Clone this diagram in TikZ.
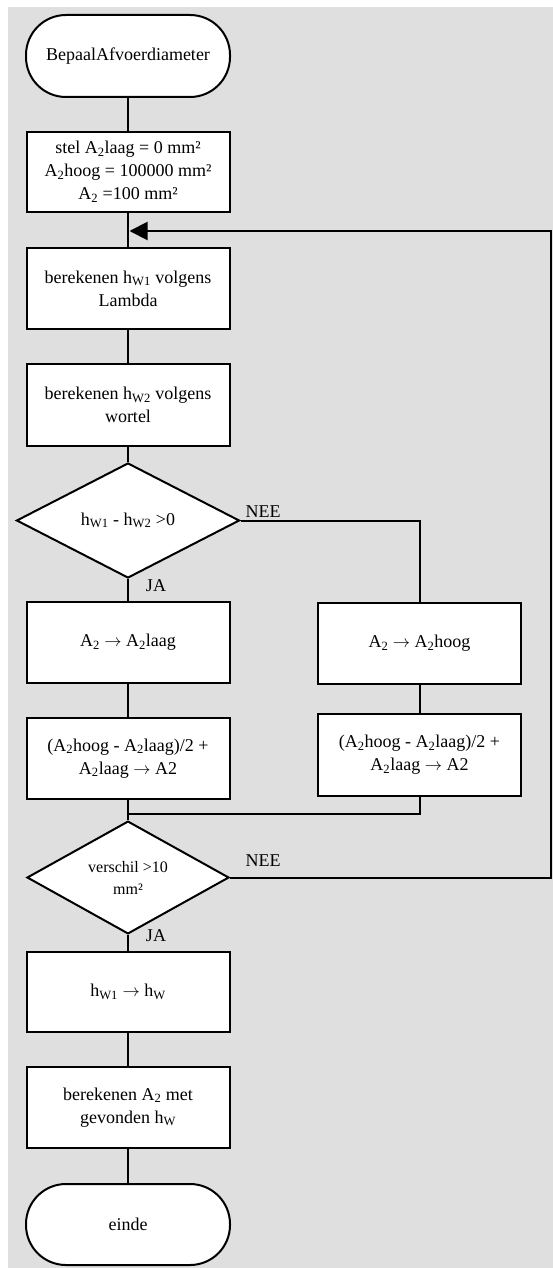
\documentclass[tikz,border=0pt]{standalone}
\usepackage{fontspec}
\setmainfont{Liberation Serif}
\usetikzlibrary{shapes.geometric,arrows.meta}
\definecolor{panel}{RGB}{223,223,223}
\newcommand\Asub{A\textsubscript{2}}
\newcommand\hsub[1]{h\textsubscript{#1}}
\newcommand\goesto{\ensuremath{\rightarrow}}
\begin{document}
\begin{tikzpicture}[x=1pt,y=-1pt,line width=2pt,
  txt/.style={font=\fontsize{18}{23}\selectfont},
  proc/.style={txt,draw,fill=white,rectangle,minimum width=203pt,inner sep=2pt,align=center},
  term/.style={txt,draw,fill=white,rectangle,rounded corners=40pt,minimum width=204pt,minimum height=82pt},
  dec/.style={draw,fill=white,diamond,inner sep=0pt,align=center},
  lbl/.style={txt,inner sep=0pt},
  loopback/.style={-{Triangle[length=18pt,width=18pt]}}
]
\useasboundingbox (0,0) rectangle (553,1268);
\fill[panel] (8,7) rectangle (553,1268);

% main column
\node[term] (start) at (128,56) {BepaalAfvoerdiameter};
\node[proc,minimum height=80pt] (init) at (128,172)
  {stel \Asub laag = 0 mm²\\\Asub hoog = 100000 mm²\\\Asub{} =100 mm²};
\node[proc,minimum height=81pt] (lambda) at (128,288.5) {berekenen \hsub{W1} volgens\\Lambda};
\node[proc,minimum height=82pt] (wortel) at (128,405) {berekenen \hsub{W2} volgens\\wortel};
\node[dec,txt,minimum width=223pt,minimum height=115pt] (test) at (128,520.5) {\hsub{W1} - \hsub{W2} >0};
\node[proc,minimum height=81pt] (laag) at (128,642.5) {\Asub{} \goesto{} \Asub laag};
\node[proc,minimum height=81pt] (midL) at (128,758.5) {(\Asub hoog - \Asub laag)/2 +\\\Asub laag \goesto{} A2};
\node[dec,font=\fontsize{16}{22}\selectfont,minimum width=202pt,minimum height=99pt] (conv) at (128,877.5) {verschil >10\\mm²};
\node[proc,minimum height=80pt] (copy) at (128,992) {\hsub{W1} \goesto{} \hsub{W}};
\node[proc,minimum height=81pt] (final) at (128,1107.5) {berekenen \Asub{} met\\gevonden \hsub{W}};
\node[term,minimum height=81pt] (stop) at (128,1224.5) {einde};

% right branch
\node[proc,minimum height=81pt] (hoog) at (419.5,643.5) {\Asub{} \goesto{} \Asub hoog};
\node[proc,minimum height=82pt] (midR) at (419.5,755) {(\Asub hoog - \Asub laag)/2 +\\\Asub laag \goesto{} A2};

% branch labels
\node[lbl] (no1) at (263,512) {NEE};
\node[lbl] (yes1) at (156,586) {JA};
\node[lbl] (no2) at (263,861) {NEE};
\node[lbl] (yes2) at (156,936) {JA};

% connectors
\coordinate (join) at (129.5,231);
\coordinate (merge) at (128,814);
\coordinate (loopc) at (551,877.5);
\draw (start) -- (init);
\draw (init) -- (lambda);
\draw (lambda) -- (wortel);
\draw (wortel) -- (test);
\draw (test.south) -- (laag.north);
\draw (test.east) -| (hoog.north);
\draw (laag) -- (midL);
\draw (hoog) -- (midR);
\draw (midL.south) -- (conv.north);
\draw (midR.south) |- (merge);
\draw (conv.south) -- (copy.north);
\draw (copy) -- (final);
\draw (final) -- (stop);
\draw[loopback] (conv.east) -- (loopc) |- (join);
\end{tikzpicture}
\end{document}
